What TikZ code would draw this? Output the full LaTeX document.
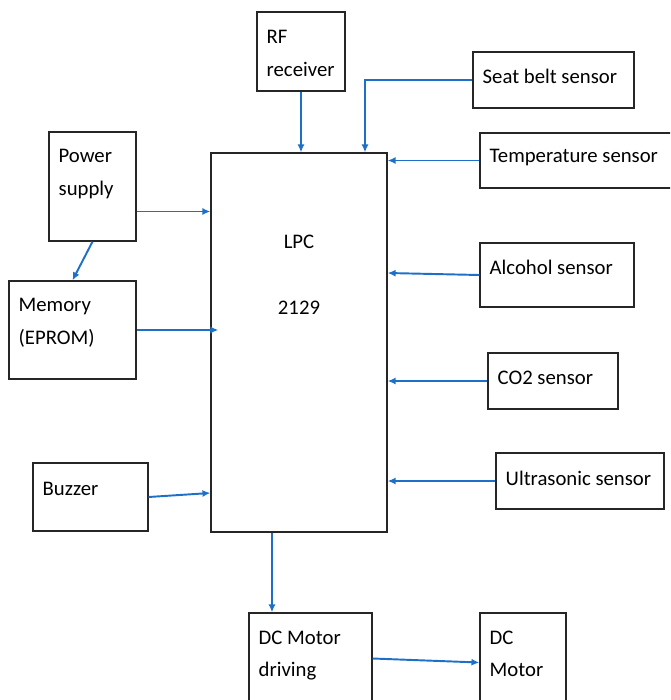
\documentclass[tikz,border=0pt]{standalone}
\usepackage{fontspec}
\setmainfont{Carlito}
\usetikzlibrary{fit,calc,arrows.meta}
\definecolor{linkblue}{RGB}{28,112,200}
\tikzset{
  box/.style={draw=black!85, line width=0.75pt, inner sep=0pt},
  boxtext/.style={anchor=north west, inner sep=0pt, align=left,
    font=\fontsize{11.8}{18.3}\selectfont},
  link/.style={draw=linkblue, line width=1.1pt, -{Latex[length=4.5pt,width=4pt]}}
}
\begin{document}
\begin{tikzpicture}[x=0.02cm, y=-0.02cm]
    \useasboundingbox (0,0) rectangle (670,700);
    \clip (0,0) rectangle (670,700);

    % 控制器
    \node[box, fit={(211,153) (387,532)}] (lpc) {};
    \node[font=\fontsize{11.8}{18.3}\selectfont, align=center, anchor=north, inner sep=0pt]
        (lpct) at (299,235) {LPC\\[19pt]2129};

    % 左侧模块
    \node[box, fit={(49,132) (136,241)}] (pow) {};
    \node[boxtext] (powt) at ($(pow.north west)+(10,18)$) {Power\\supply};
    \node[box, fit={(9,281) (136,379)}] (mem) {};
    \node[boxtext] (memt) at ($(mem.north west)+(10,18)$) {Memory\\(EPROM)};
    \node[box, fit={(33,463) (148,531)}] (buz) {};
    \node[boxtext] (buzt) at ($(buz.north west)+(10,19)$) {Buzzer};

    % 上方模块
    \node[box, fit={(257,12) (345,91)}] (rf) {};
    \node[boxtext] (rft) at ($(rf.north west)+(10,19)$) {RF\\receiver};

    % 右侧传感器
    \node[box, fit={(473,52) (634,108)}] (seat) {};
    \node[boxtext] (seatt) at ($(seat.north west)+(10,17)$) {Seat belt sensor};
    \node[box, fit={(480,133) (672,188)}] (temp) {};
    \node[boxtext] (tempt) at ($(temp.north west)+(10,17)$) {Temperature sensor};
    \node[box, fit={(480,243) (634,307)}] (alc) {};
    \node[boxtext] (alct) at ($(alc.north west)+(10,17)$) {Alcohol sensor};
    \node[box, fit={(488,353) (618,409)}] (co2) {};
    \node[boxtext] (co2t) at ($(co2.north west)+(10,18)$) {CO2 sensor};
    \node[box, fit={(496,453) (664,509)}] (ultra) {};
    \node[boxtext] (ultrat) at ($(ultra.north west)+(10,18)$) {Ultrasonic sensor};

    % 电机部分
    \node[box, fit={(249,613) (372,704)}] (drv) {};
    \node[boxtext] (drvt) at ($(drv.north west)+(10,18)$) {DC Motor\\driving};
    \node[box, fit={(480,613) (566,704)}] (mot) {};
    \node[boxtext] (mott) at ($(mot.north west)+(10,18)$) {DC\\Motor};

    % 连线
    \draw[link] (rf.south) -- (rf.south |- lpc.north);
    \coordinate (sbin) at ($(lpc.north)+(66,0)$);
    \draw[link] (seat.west) -| (sbin);
    \draw[link] (temp.west) -- (temp.west -| lpc.east);
    \draw[link] ($(pow.east)+(0,25)$) coordinate (p1) -- (p1 -| lpc.west);
    \draw[link] (pow.south) -- (mem.north);
    \draw[link] (mem.east) -- ($(mem.east -| lpc.west)+(8,0)$);
    \draw[link] (alc.west) -- ($(alc.west -| lpc.east)+(0,-2)$);
    \draw[link] (co2.west) -- (co2.west -| lpc.east);
    \draw[link] (ultra.west) -- (ultra.west -| lpc.east);
    \draw[link] (buz.east) -- ($(buz.east -| lpc.west)+(0,-4)$);
    \draw[link] ($(lpc.south)+(-27,0)$) coordinate (d1) -- (d1 |- drv.north);
    \draw[link] (drv.east) -- ($(mot.west)+(0,4)$);
\end{tikzpicture}
\end{document}
